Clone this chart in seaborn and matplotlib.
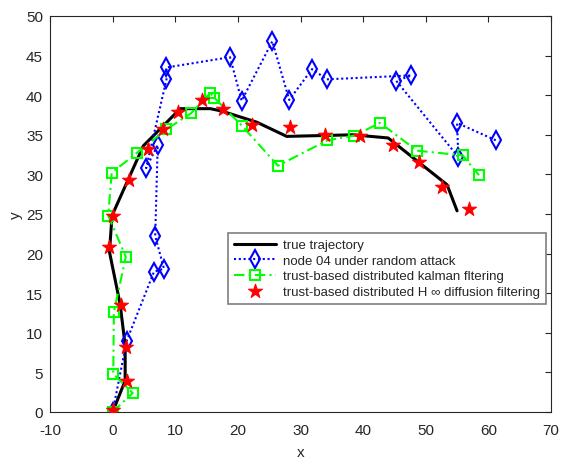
import numpy as np
import pandas as pd
import matplotlib
matplotlib.use("Agg")
import matplotlib.pyplot as plt
import seaborn as sns

# ---- data ----
true_x = [0, 2.0, 2.0, 1.2, -0.5, -0.1, 4.9, 10.8, 15.6, 17.4, 23.0, 27.8, 38.4, 44.0, 53.4, 55.0]
true_y = [0, 3.95, 8.4, 13.6, 20.2, 24.8, 33.6, 38.3, 38.3, 38.0, 36.6, 34.8, 35.0, 34.6, 28.7, 25.4]

node_x = [0, 2.25, 6.6, 8.2, 6.8, 7.2, 5.35, 8.6, 8.6, 18.75, 20.6, 25.5, 28.2, 31.85, 34.2, 47.7, 45.3, 55.2, 55.0, 61.2]
node_y = [0, 9.0, 17.7, 18.1, 22.2, 33.7, 30.8, 42.0, 43.5, 44.8, 39.3, 46.8, 39.4, 43.3, 42.0, 42.5, 41.8, 32.2, 36.5, 34.3]

kal_x = [0, 3.2, 0.1, 0.2, 2.1, -0.7, -0.15, 3.85, 8.6, 12.5, 15.6, 16.2, 20.7, 26.4, 34.3, 38.6, 42.7, 48.6, 55.9, 58.5]
kal_y = [0, 2.4, 4.8, 12.6, 19.6, 24.8, 30.2, 32.7, 35.7, 37.7, 40.3, 39.7, 36.1, 31.1, 34.3, 34.9, 36.5, 33.0, 32.4, 29.9]

hinf_x = [0.1, 2.25, 2.1, 1.3, -0.5, 0.0, 2.6, 5.7, 8.1, 10.5, 14.2, 17.6, 22.3, 28.3, 33.9, 39.5, 44.7, 49.0, 52.6, 56.9]
hinf_y = [0.2, 3.95, 8.25, 13.5, 20.8, 24.7, 29.3, 33.2, 35.7, 37.9, 39.4, 38.3, 36.3, 36.0, 35.0, 34.9, 33.7, 31.6, 28.4, 25.6]

labels = ["true trajectory",
          "node 04 under random attack",
          "trust-based distributed kalman fltering",
          "trust-based distributed H \u221e diffusion filtering"]
xticks = list(range(-10, 71, 10))
yticks = list(range(0, 51, 5))

sns.set_style("white")
plt.rcParams['font.family'] = ['Liberation Sans', 'DejaVu Sans']
plt.rcParams['axes.unicode_minus'] = False

fig = plt.figure(figsize=(5.63, 4.60), dpi=100)
ax = fig.add_axes([50/563, 1-413/460, 501/563, 396/460])

sns.lineplot(x=true_x, y=true_y, sort=False, estimator=None, ax=ax,
             color="black", linewidth=2.2, label=labels[0])
sns.lineplot(x=node_x, y=node_y, sort=False, estimator=None, ax=ax,
             color="#0000FF", linewidth=1.5, linestyle=(0, (1, 1.3)),
             marker="d", markersize=9, markerfacecolor="none",
             markeredgecolor="#0000FF", markeredgewidth=1.5, label=labels[1])
sns.lineplot(x=kal_x, y=kal_y, sort=False, estimator=None, ax=ax,
             color="#00FF00", linewidth=1.5, linestyle=(0, (5, 2, 1, 2)),
             marker="s", markersize=6.5, markerfacecolor="none",
             markeredgecolor="#00FF00", markeredgewidth=1.5, label=labels[2])
sns.scatterplot(x=hinf_x, y=hinf_y, ax=ax, marker="*", s=110,
                color="#FF0000", edgecolor="#FF0000", linewidth=0.8,
                label=labels[3], zorder=5)

ax.set_xlim(-10, 70)
ax.set_ylim(0, 50)
ax.set_xticks(xticks)
ax.set_yticks(yticks)
ax.tick_params(direction="in", length=4, width=0.8, top=True, right=True,
               labelsize=11, colors="#262626")
ax.tick_params(axis="x", pad=8)
ax.tick_params(axis="y", pad=5)
for s in ax.spines.values():
    s.set_visible(True)
    s.set_color("#262626")
    s.set_linewidth(0.8)
ax.set_xlabel("x", fontsize=11, color="#262626", labelpad=6)
ax.set_ylabel("y", fontsize=11, color="#262626", labelpad=2)

leg = ax.legend(loc="lower left", bbox_to_anchor=(0.355, 0.273), borderaxespad=0,
                fontsize=9.5, frameon=True, fancybox=False, framealpha=1,
                edgecolor="#7f7f7f", handlelength=3.2, handletextpad=0.5,
                labelspacing=0.25, borderpad=0.45)
leg.get_frame().set_linewidth(1.2)

fig.savefig("out.png", dpi=100)
